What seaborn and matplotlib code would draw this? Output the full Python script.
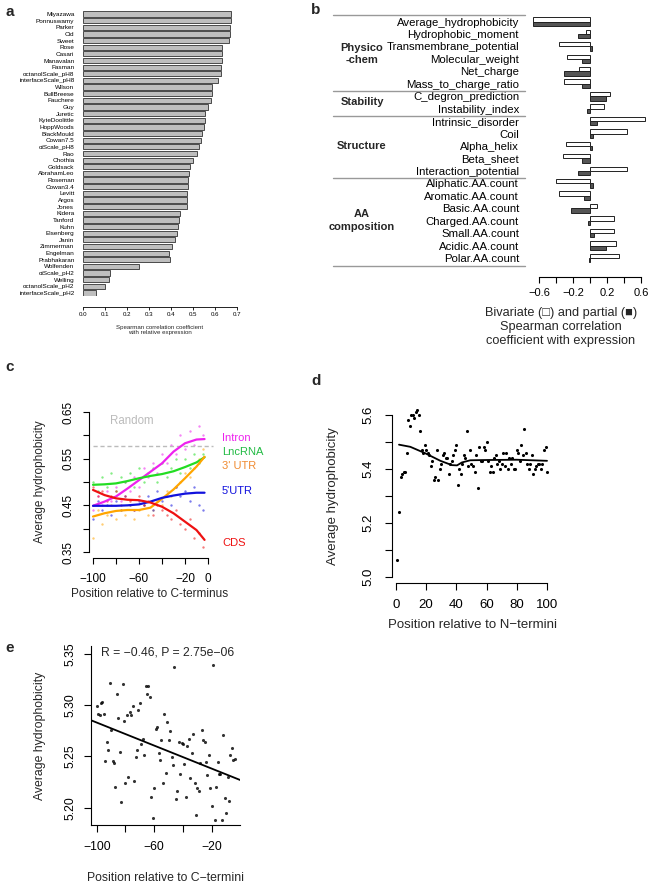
import numpy as np
import pandas as pd
import matplotlib
matplotlib.use("Agg")
import matplotlib.pyplot as plt
import matplotlib.transforms as mtransforms
import seaborn as sns

# ---------------- panel a : hydrophobicity scales ----------------
scale_names = [
    "Miyazawa", "Ponnuswamy", "Parker", "Cid", "Sweet", "Rose", "Casari",
    "Manavalan", "Fasman", "octanolScale_pH8", "interfaceScale_pH8", "Wilson",
    "BullBreese", "Fauchere", "Guy", "Juretic", "KyteDoolittle", "HoppWoods",
    "BlackMould", "Cowan7.5", "oiScale_pH8", "Rao", "Chothia", "Goldsack",
    "AbrahamLeo", "Roseman", "Cowan3.4", "Levitt", "Argos", "Jones", "Kidera",
    "Tanford", "Kuhn", "Eisenberg", "Janin", "Zimmerman", "Engelman",
    "Prabhakaran", "Wolfenden", "oiScale_pH2", "Welling", "octanolScale_pH2",
    "interfaceScale_pH2",
]
scale_rho = [
    0.673, 0.674, 0.670, 0.667, 0.664, 0.632, 0.633, 0.630, 0.629, 0.626,
    0.615, 0.588, 0.585, 0.582, 0.567, 0.556, 0.553, 0.550, 0.539, 0.538,
    0.526, 0.520, 0.502, 0.488, 0.482, 0.477, 0.476, 0.473, 0.471, 0.471,
    0.439, 0.435, 0.432, 0.427, 0.417, 0.405, 0.392, 0.394, 0.256, 0.121,
    0.117, 0.100, 0.059,
]
a_ticks = [0.0, 0.1, 0.2, 0.3, 0.4, 0.5, 0.6, 0.7]

# ---------------- panel b : feature correlations ----------------
feature_names = [
    "Average_hydrophobicity", "Hydrophobic_moment", "Transmembrane_potential",
    "Molecular_weight", "Net_charge", "Mass_to_charge_ratio",
    "C_degron_prediction", "Instability_index",
    "Intrinsic_disorder", "Coil", "Alpha_helix", "Beta_sheet",
    "Interaction_potential",
    "Aliphatic.AA.count", "Aromatic.AA.count", "Basic.AA.count",
    "Charged.AA.count", "Small.AA.count", "Acidic.AA.count", "Polar.AA.count",
]
bivariate_rho = [-0.67, -0.05, -0.365, -0.27, -0.135, -0.31, 0.23, 0.16,
                 0.65, 0.43, -0.28, -0.32, 0.43, -0.40, -0.37, 0.08, 0.28,
                 0.285, 0.30, 0.345]
partial_rho = [-0.67, -0.14, 0.02, -0.10, -0.31, -0.10, 0.19, -0.035,
               0.08, 0.03, 0.02, -0.09, -0.14, 0.04, -0.07, -0.22, -0.02,
               0.05, 0.19, -0.01]
group_labels = ["Physico\n-chem", "Stability", "Structure", "AA\ncomposition"]
group_centers = [2.6, 6.5, 10.0, 16.0]
group_breaks = [-0.5, 5.6, 7.6, 12.6, 19.65]
b_ticks = [-0.6, -0.4, -0.2, 0.0, 0.2, 0.4, 0.6]
b_ticklabels = ["\u22120.6", "", "\u22120.2", "", "0.2", "", "0.6"]

# ---------------- panel c : per-region profiles ----------------
c_curve_pos = [-100, -90, -80, -70, -60, -50, -40, -30, -20, -10, -3]
c_curves = {
    "Intron": [0.449, 0.458, 0.469, 0.486, 0.504, 0.522, 0.540, 0.565, 0.583, 0.591, 0.592],
    "LncRNA": [0.494, 0.495, 0.497, 0.502, 0.508, 0.513, 0.517, 0.523, 0.532, 0.542, 0.553],
    "3' UTR": [0.426, 0.433, 0.438, 0.440, 0.440, 0.445, 0.464, 0.484, 0.508, 0.533, 0.554],
    "5'UTR": [0.449, 0.449, 0.449, 0.450, 0.452, 0.458, 0.466, 0.471, 0.475, 0.477, 0.477],
    "CDS": [0.483, 0.472, 0.465, 0.462, 0.461, 0.456, 0.447, 0.433, 0.415, 0.397, 0.376],
}
c_dot_pos = [-100, -96, -92, -88, -84, -80, -76, -72, -68, -64, -60, -56, -52,
             -48, -44, -40, -36, -32, -28, -24, -20, -16, -12, -8, -4]
c_dots = {
    "Intron": [0.44, 0.47, 0.45, 0.48, 0.46, 0.49, 0.46, 0.50, 0.48, 0.51, 0.49, 0.53, 0.51,
               0.54, 0.52, 0.56, 0.54, 0.58, 0.56, 0.60, 0.57, 0.61, 0.58, 0.62, 0.60],
    "LncRNA": [0.50, 0.48, 0.51, 0.49, 0.52, 0.48, 0.51, 0.50, 0.52, 0.49, 0.53, 0.50, 0.52,
               0.53, 0.50, 0.54, 0.51, 0.53, 0.55, 0.52, 0.55, 0.53, 0.56, 0.54, 0.56],
    "3' UTR": [0.38, 0.44, 0.41, 0.43, 0.45, 0.42, 0.44, 0.43, 0.45, 0.42, 0.44, 0.45, 0.43,
               0.44, 0.46, 0.45, 0.48, 0.47, 0.49, 0.50, 0.52, 0.51, 0.53, 0.55, 0.57],
    "5'UTR": [0.42, 0.46, 0.44, 0.45, 0.43, 0.46, 0.44, 0.47, 0.45, 0.44, 0.46, 0.45, 0.47,
              0.44, 0.48, 0.46, 0.47, 0.45, 0.49, 0.47, 0.48, 0.46, 0.49, 0.45, 0.44],
    "CDS": [0.49, 0.47, 0.48, 0.46, 0.47, 0.48, 0.45, 0.47, 0.46, 0.44, 0.47, 0.45, 0.46,
            0.43, 0.45, 0.44, 0.43, 0.42, 0.44, 0.41, 0.40, 0.42, 0.38, 0.39, 0.36],
}
c_line_colors = {"Intron": "#EE22EE", "LncRNA": "#22DD22", "3' UTR": "#FFA500",
                 "5'UTR": "#1111DD", "CDS": "#EE1111"}
c_text_colors = {"Intron": "#EE22EE", "LncRNA": "#22BB44", "3' UTR": "#F08A30",
                 "5'UTR": "#1111DD", "CDS": "#EE1111"}
c_label_y = {"Intron": 0.594, "LncRNA": 0.564, "3' UTR": 0.534, "5'UTR": 0.481, "CDS": 0.369}
c_random = 0.578

# ---------------- panel d : N-termini ----------------
d_pos = list(range(1, 101))
d_hydro = [
    5.06, 5.24, 5.37, 5.38, 5.39, 5.39, 5.46, 5.58, 5.56, 5.60,
    5.60, 5.59, 5.61, 5.62, 5.60, 5.54, 5.47, 5.46, 5.49, 5.47,
    5.46, 5.45, 5.41, 5.43, 5.36, 5.37, 5.47, 5.36, 5.40, 5.42,
    5.45, 5.46, 5.44, 5.44, 5.38, 5.42, 5.43, 5.45, 5.47, 5.49,
    5.34, 5.40, 5.38, 5.42, 5.45, 5.44, 5.54, 5.41, 5.47, 5.42,
    5.41, 5.39, 5.45, 5.33, 5.48, 5.43, 5.43, 5.48, 5.47, 5.50,
    5.43, 5.39, 5.41, 5.39, 5.44, 5.45, 5.42, 5.43, 5.40, 5.42,
    5.46, 5.41, 5.46, 5.40, 5.44, 5.42, 5.44, 5.40, 5.40, 5.47,
    5.46, 5.43, 5.49, 5.45, 5.55, 5.46, 5.42, 5.40, 5.42, 5.45,
    5.38, 5.40, 5.41, 5.42, 5.42, 5.40, 5.42, 5.47, 5.48, 5.39,
]
d_smooth_pos = [2, 9.5, 19.4, 29.4, 37, 40.4, 43.7, 49.2, 60.3, 80, 100]
d_smooth = [5.490, 5.482, 5.458, 5.430, 5.414, 5.413, 5.424, 5.432, 5.433, 5.434, 5.430]

# ---------------- panel e : C-termini ----------------
e_pos = list(range(-100, -3))
e_hydro = [
    5.299, 5.291, 5.290, 5.302, 5.303, 5.291, 5.246, 5.264, 5.256, 5.322,
    5.276, 5.246, 5.244, 5.220, 5.311, 5.288, 5.254, 5.206, 5.321, 5.285,
    5.224, 5.290, 5.230, 5.293, 5.290, 5.299, 5.226, 5.249, 5.256, 5.295,
    5.302, 5.262, 5.267, 5.251, 5.319, 5.311, 5.319, 5.308, 5.210, 5.190,
    5.219, 5.277, 5.279, 5.253, 5.247, 5.266, 5.224, 5.291, 5.234, 5.284,
    5.266, 5.275, 5.249, 5.242, 5.337, 5.208, 5.216, 5.264, 5.233, 5.263,
    5.262, 5.243, 5.210, 5.260, 5.267, 5.229, 5.253, 5.272, 5.224, 5.193,
    5.219, 5.216, 5.244, 5.276, 5.266, 5.264, 5.245, 5.232, 5.251, 5.219,
    5.202, 5.339, 5.188, 5.220, 5.245, 5.233, 5.233, 5.188, 5.271, 5.209,
    5.195, 5.230, 5.207, 5.251, 5.258, 5.247, 5.248,
]
e_stat_text = "R = \u22120.46, P = 2.75e\u221206"

# =========================
# STYLE
# =========================
sns.set_theme(style="ticks")
plt.rcParams["font.family"] = ["Liberation Sans", "DejaVu Sans"]
plt.rcParams["font.size"] = 8
plt.rcParams["axes.linewidth"] = 0.8
plt.rcParams["xtick.major.width"] = 0.8
plt.rcParams["ytick.major.width"] = 0.8
plt.rcParams["xtick.color"] = "black"
plt.rcParams["ytick.color"] = "black"
plt.rcParams["axes.edgecolor"] = "black"

W, H = 651, 885
fig = plt.figure(figsize=(W / 100, H / 100), dpi=100)


def add_ax(box):
    left, top, right, bottom = box
    return fig.add_axes([left / W, 1 - bottom / H, (right - left) / W, (bottom - top) / H])


def letter(x, y, s):
    fig.text(x / W, 1 - y / H, s, fontsize=11, fontweight="bold", ha="left", va="center")


def r_axes(ax, box, fs, ticklen, xpad, ypad, xlab_y, ylab_x, xb=None, yb=None):
    # R-like axes: open box, rotated y tick labels, labels placed by pixel
    left, top, right, bottom = box
    ax.spines["top"].set_visible(False)
    ax.spines["right"].set_visible(False)
    if xb is not None:
        ax.spines["bottom"].set_bounds(*xb)
    if yb is not None:
        ax.spines["left"].set_bounds(*yb)
    ax.tick_params(length=ticklen, labelsize=fs)
    ax.tick_params(axis="x", pad=xpad)
    ax.tick_params(axis="y", pad=ypad, labelrotation=90)
    for lbl in ax.get_yticklabels():
        lbl.set_va("center")
    ax.xaxis.label.set_fontsize(fs)
    ax.yaxis.label.set_fontsize(fs)
    ax.xaxis.label.set_va("center")
    ax.yaxis.label.set_va("center")
    ax.xaxis.set_label_coords(0.5, (bottom - xlab_y) / (bottom - top))
    ax.yaxis.set_label_coords((ylab_x - left) / (right - left), 0.5)


# =========================
# PANEL A
# =========================
ax = add_ax((83, 10.7, 237, 296.3))
sns.barplot(x=scale_rho, y=scale_names, orient="h", color="#BEBEBE",
            saturation=1, edgecolor="#333333", linewidth=0.6, width=0.78, ax=ax)
ax.set_xlim(0, 0.7)
ax.set_ylim(len(scale_names) - 0.5, -0.5)
for s in ["top", "right", "left"]:
    ax.spines[s].set_visible(False)
ax.spines["bottom"].set_position(("outward", 7.5))
ax.spines["bottom"].set_linewidth(0.6)
ax.set_xticks(a_ticks, [f"{t:.1f}" for t in a_ticks])
ax.tick_params(axis="x", length=2.2, width=0.6, labelsize=4.4, pad=1.5)
ax.tick_params(axis="y", length=0, labelsize=4.6, pad=6.2)
ax.set_xlabel("")
ax.set_ylabel("")
fig.text(160 / W, 1 - 325 / H, "Spearman correlation coefficient\nwith relative expression",
         fontsize=4.4, ha="center", va="top", linespacing=1.05)
letter(5, 12, "a")

# =========================
# PANEL B
# =========================
df_b = pd.DataFrame({
    "feature": feature_names * 2,
    "rho": bivariate_rho + partial_rho,
    "kind": ["Bivariate"] * len(feature_names) + ["Partial"] * len(feature_names),
})
ax = add_ax((530.5, 15.3, 649.5, 264.2))
sns.barplot(data=df_b, x="rho", y="feature", hue="kind", order=feature_names,
            hue_order=["Bivariate", "Partial"],
            palette={"Bivariate": "white", "Partial": "#555555"},
            saturation=1, edgecolor="#222222", linewidth=0.7, width=0.7,
            orient="h", legend=False, ax=ax)
ax.set_xlim(-0.70, 0.70)
ax.set_ylim(len(feature_names) - 0.5, -0.5)
for s in ["top", "right", "left"]:
    ax.spines[s].set_visible(False)
ax.spines["bottom"].set_position(("outward", 9))
ax.spines["bottom"].set_bounds(-0.6, 0.6)
ax.set_xticks(b_ticks, b_ticklabels)
ax.tick_params(axis="x", length=4, labelsize=8, pad=4)
ax.tick_params(axis="y", length=0, labelsize=8.2, pad=8.2)
ax.set_xlabel("")
ax.set_ylabel("")
blend = mtransforms.blended_transform_factory(fig.transFigure, ax.transData)
for yb in group_breaks:
    ax.plot([333 / W, 525 / W], [yb, yb], transform=blend, color="#999999",
            lw=1.0, clip_on=False)
for lab, yc in zip(group_labels, group_centers):
    ax.text(362 / W, yc, lab, transform=blend, ha="center", va="center",
            fontsize=8, fontweight="bold", linespacing=1.3)
fig.text(561 / W, 1 - 307 / H,
         "Bivariate (\u25a1) and partial (\u25a0)\nSpearman correlation\ncoefficient with expression",
         fontsize=9.2, ha="center", va="top", linespacing=1.23)
letter(311, 10, "b")

# =========================
# PANEL C
# =========================
box_c = (88.5, 406.4, 210.2, 557.6)
ax = add_ax(box_c)
for name in c_curves:
    sns.scatterplot(x=c_dot_pos, y=c_dots[name], color=c_line_colors[name],
                    s=3, alpha=0.55, linewidth=0, ax=ax)
ax.hlines(c_random, -100, 4, colors="#BBBBBB", linestyles=(0, (3, 2)), lw=1.0, clip_on=False)
for name in c_curves:
    sns.lineplot(x=c_curve_pos, y=c_curves[name], color=c_line_colors[name], lw=1.6, ax=ax)
    ax.text(12.2, c_label_y[name], name, color=c_text_colors[name], fontsize=8,
            ha="left", va="center", clip_on=False)
ax.text(-66.3, 0.631, "Random", color="#BBBBBB", fontsize=8.3, ha="center", va="center")
ax.set_xlim(-103.92, 1.92)
ax.set_ylim(0.338, 0.662)
ax.set_xticks([-100, -80, -60, -40, -20, 0], ["\u2212100", "", "\u221260", "", "\u221220", "0"])
ax.set_yticks([0.35, 0.40, 0.45, 0.50, 0.55, 0.60, 0.65],
              ["0.35", "", "0.45", "", "0.55", "", "0.65"])
ax.set_xlabel("Position relative to C-terminus")
ax.set_ylabel("Average hydrophobicity")
r_axes(ax, box_c, fs=8.5, ticklen=4.3, xpad=6.6, ypad=6.0, xlab_y=594, ylab_x=40,
       xb=(-100, 0), yb=(0.35, 0.65))
letter(5, 367, "c")

# =========================
# PANEL D
# =========================
box_d = (391.5, 408.6, 553, 583)
ax = add_ax(box_d)
sns.scatterplot(x=d_pos, y=d_hydro, color="black", s=5, linewidth=0, ax=ax)
sns.lineplot(x=d_smooth_pos, y=d_smooth, color="black", lw=1.3, ax=ax)
ax.set_xlim(-2.96, 103.96)
ax.set_ylim(4.976, 5.624)
ax.set_xticks([0, 20, 40, 60, 80, 100])
ax.set_yticks([5.0, 5.1, 5.2, 5.3, 5.4, 5.5, 5.6], ["5.0", "", "5.2", "", "5.4", "", "5.6"])
ax.set_xlabel("Position relative to N\u2212termini")
ax.set_ylabel("Average hydrophobicity")
r_axes(ax, box_d, fs=9.5, ticklen=5, xpad=6.8, ypad=7.6, xlab_y=625, ylab_x=333,
       xb=(0, 100), yb=(5.0, 5.6))
letter(311, 381, "d")

# =========================
# PANEL E
# =========================
box_e = (91.2, 645.8, 240.3, 825.1)
ax = add_ax(box_e)
ax.set_xlim(-103.84, -0.16)
ax.set_ylim(5.183, 5.358)
sns.regplot(x=e_pos, y=e_hydro, ci=None, truncate=False,
            scatter_kws=dict(s=5, color="black", linewidths=0),
            line_kws=dict(color="black", lw=1.3), ax=ax)
ax.set_xlim(-103.84, -0.16)
ax.set_ylim(5.183, 5.358)
ax.text(-51, 5.351, e_stat_text, fontsize=8.8, ha="center", va="center")
ax.set_xticks([-100, -80, -60, -40, -20], ["\u2212100", "", "\u221260", "", "\u221220"])
ax.set_yticks([5.20, 5.25, 5.30, 5.35], ["5.20", "5.25", "5.30", "5.35"])
ax.set_xlabel("Position relative to C\u2212termini")
ax.set_ylabel("Average hydrophobicity")
r_axes(ax, box_e, fs=8.8, ticklen=5, xpad=6.6, ypad=5.6, xlab_y=878, ylab_x=40)
letter(5, 648, "e")

fig.savefig("out.png", dpi=100)
